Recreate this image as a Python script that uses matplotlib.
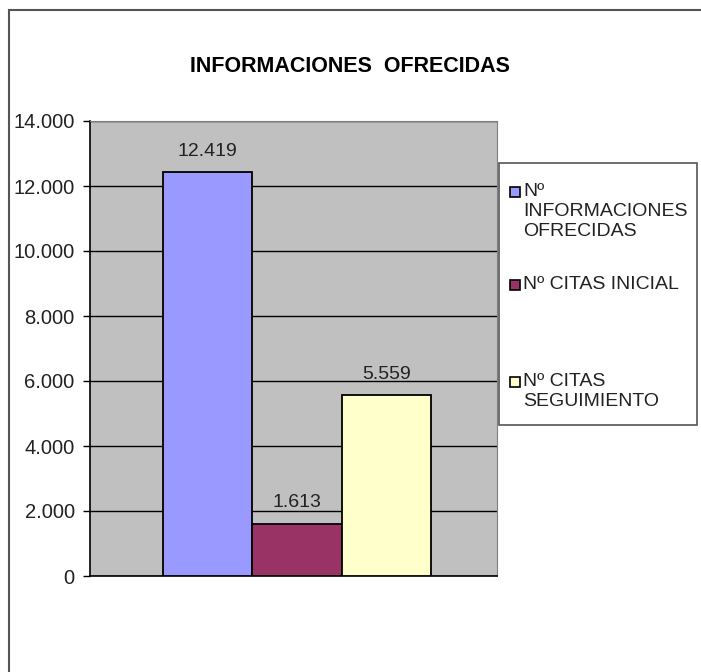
import matplotlib
matplotlib.use("Agg")
import matplotlib.pyplot as plt
from matplotlib.patches import Rectangle
from matplotlib.ticker import FuncFormatter

plt.rcParams['font.family'] = ['Liberation Sans', 'DejaVu Sans']

# Data
labels = ["Nº\nINFORMACIONES\nOFRECIDAS", "Nº CITAS INICIAL", "Nº CITAS\nSEGUIMIENTO"]
values = [12419, 1613, 5559]
colors = ["#9999FF", "#993366", "#FFFFCC"]
yticks = [0, 2000, 4000, 6000, 8000, 10000, 12000, 14000]

W, H = 701, 672
fig = plt.figure(figsize=(W / 100, H / 100), dpi=100)

# outer chart border (runs off right/bottom edges)
fig.patches.append(Rectangle((9 / W, -0.05), 1.0, 1 - 10 / H + 0.05, transform=fig.transFigure,
                             fill=False, edgecolor="#555555", linewidth=1.5))

ax = fig.add_axes([90 / W, 1 - 576 / H, 407 / W, 455 / H])
ax.set_facecolor("#C0C0C0")

positions = range(len(values))
bars = ax.bar(positions, values, width=1.0, color=colors, edgecolor="black", linewidth=1.3, zorder=3)
ax.set_xlim(-1.317, 3.239)
ax.set_ylim(0, 14000)
ax.set_yticks(yticks)
ax.yaxis.set_major_formatter(FuncFormatter(lambda v, p: f"{int(v):,}".replace(",", ".")))
ax.grid(axis="y", color="black", linewidth=1.0, zorder=1)
ax.set_xticks([])
ax.tick_params(axis="y", direction="out", length=5, width=1, labelsize=14.5, pad=6,
               labelcolor="#222222")

for side in ["top", "right"]:
    ax.spines[side].set_color("#808080")
ax.spines["left"].set_linewidth(1.2)
ax.spines["bottom"].set_linewidth(1.2)

for b, v in zip(bars, values):
    ax.annotate(f"{v:,}".replace(",", "."), (b.get_x() + b.get_width() / 2, v),
                xytext=(0, 9), textcoords="offset points", ha="center", va="bottom",
                fontsize=14, color="#222222")

fig.text(350 / W, 1 - 66 / H, "INFORMACIONES  OFRECIDAS", ha="center", va="center",
         fontsize=15.5, fontweight="bold")

# legend box
fig.patches.append(Rectangle((499 / W, 1 - 425 / H), 198 / W, 262 / H, transform=fig.transFigure,
                             facecolor="white", edgecolor="#555555", linewidth=1.2))
label_tops = [183, 276, 373]
for lab, col, top in zip(labels, colors, label_tops):
    fig.patches.append(Rectangle((510 / W, 1 - (top + 14) / H), 10 / W, 10 / H,
                                 transform=fig.transFigure, facecolor=col,
                                 edgecolor="black", linewidth=1.2))
    fig.text(523 / W, 1 - top / H, lab, ha="left", va="top", fontsize=14,
             linespacing=1.22, color="#222222")

fig.savefig("out.png", dpi=100)
